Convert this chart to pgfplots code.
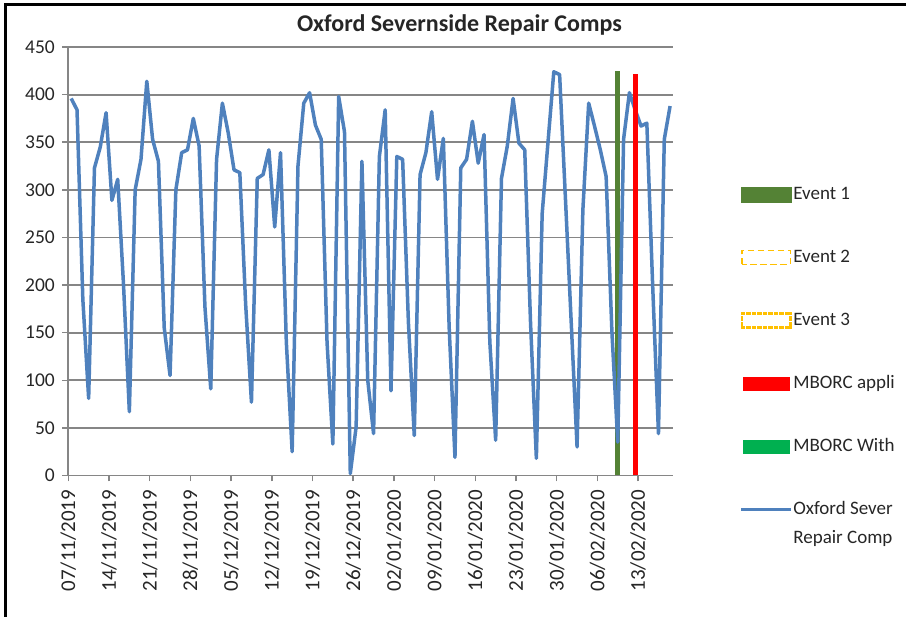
\documentclass[border=0pt]{standalone}
\usepackage{fontspec}
\setmainfont{Carlito}
\usepackage{pgfplots}
\usepackage{pgfplotstable}
\pgfplotsset{compat=1.18}
\definecolor{serblue}{RGB}{79,129,189}
\definecolor{evgreen}{RGB}{84,130,53}
\definecolor{mbgreen}{RGB}{0,176,80}
\definecolor{evorange}{RGB}{255,192,0}
\definecolor{gridgray}{RGB}{134,134,134}

\pgfplotstableread{
d v
0 396
1 384
2 185
3 81
4 323
5 345
6 381
7 289
8 311
9 200
10 67
11 300
12 332
13 414
14 353
15 330
16 155
17 105
18 300
19 339
20 342
21 375
22 346
23 177
24 91
25 332
26 391
27 360
28 321
29 318
30 180
31 77
32 312
33 316
34 342
35 261
36 339
37 140
38 25
39 325
40 391
41 402
42 368
43 353
44 140
45 33
46 398
47 361
48 2
49 51
50 330
51 100
52 44
53 335
54 384
55 89
56 335
57 332
58 160
59 42
60 316
61 339
62 382
63 311
64 354
65 156
66 19
67 323
68 332
69 372
70 328
71 358
72 140
73 37
74 312
75 346
76 396
77 349
78 342
79 160
80 18
81 275
82 350
83 424
84 421
85 291
86 160
87 30
88 279
89 391
90 367
91 342
92 314
93 150
94 35
95 353
96 402
97 384
98 367
99 370
100 200
101 44
102 353
103 388
}\compdata

\begin{document}
\begin{tikzpicture}
\path[use as bounding box] (0pt,0pt) rectangle (906pt,617pt);
\begin{axis}[
  at={(68.3pt,141.5pt)}, anchor=south west,
  width=604.7pt, height=428.5pt, scale only axis,
  xmin=-0.5, xmax=103.5, ymin=0, ymax=450,
  clip=false,
  axis lines=left,
  axis line style={-, draw=gridgray, line width=1.8pt},
  ymajorgrids,
  major grid style={draw=gridgray, line width=1.8pt},
  tick align=outside,
  major tick length=6pt,
  tick style={draw=gridgray, line width=1.5pt},
  ytick={0,50,100,150,200,250,300,350,400,450},
  xtick={-0.5,6.5,13.5,20.5,27.5,34.5,41.5,48.5,55.5,62.5,69.5,76.5,83.5,90.5,97.5},
  xticklabels={07/11/2019,14/11/2019,21/11/2019,28/11/2019,05/12/2019,12/12/2019,19/12/2019,26/12/2019,02/01/2020,09/01/2020,16/01/2020,23/01/2020,30/01/2020,06/02/2020,13/02/2020},
  /pgf/number format/assume math mode=true,
  yticklabel shift=4pt,
  xticklabel shift=5pt,
  yticklabel style={font=\fontsize{19.5}{20}\selectfont, text=black!85},
  xticklabel style={rotate=90, anchor=east, font=\fontsize{21}{22}\selectfont, text=black!85},
  title={Oxford Severnside Repair Comps},
  title style={at={(axis description cs:0.647,1.0373)}, anchor=center, font=\bfseries\fontsize{24}{26}\selectfont, text=black!85},
  legend cell align=left,
  legend style={at={(axis description cs:1.1097,0.6768)}, anchor=north west,
    draw=none, fill=none, inner sep=0pt, outer sep=0pt,
    row sep=45pt, column sep=0.5pt,
    font=\fontsize{19}{29}\selectfont, text=black!85,
    nodes={inner sep=0pt, text height=14pt, text depth=4pt}},
]
\addplot[ycomb, draw=evgreen, line width=5pt, forget plot] coordinates {(94,425)};
\addplot[serblue, line width=3.5pt, line join=round, forget plot] table[x=d,y=v]{\compdata};
\addplot[ycomb, draw=red, line width=5pt, forget plot] coordinates {(97,422)};

\addlegendimage{draw=evgreen, fill=evgreen, legend image code/.code={\fill[evgreen] (0pt,-7.5pt) rectangle (50pt,7.5pt);}}
\addlegendentry{Event 1}
\addlegendimage{draw=evorange, legend image code/.code={\draw[draw=evorange, line width=1.5pt, dash pattern=on 6.5pt off 3.5pt] (0.75pt,-7pt) rectangle (49.25pt,7pt);}}
\addlegendentry{Event 2}
\addlegendimage{draw=evorange, legend image code/.code={%
  \foreach \xx in {0,5.5,11,16.5,22,27.5,33,38.5,44} {\fill[evorange] (\xx pt,6.2pt) rectangle ++(3.6pt,1.6pt); \fill[evorange] (\xx pt,-7.8pt) rectangle ++(3.6pt,1.6pt);}
  \fill[evorange] (48.4pt,6.2pt) rectangle (50pt,7.8pt);
  \fill[evorange] (48.4pt,-7.8pt) rectangle (50pt,-6.2pt);
  \foreach \yy in {-4.6,0.6} {\fill[evorange] (0pt,\yy pt) rectangle ++(1.6pt,3.2pt); \fill[evorange] (48.4pt,\yy pt) rectangle ++(1.6pt,3.2pt);}
}}
\addlegendentry{Event 3}
\addlegendimage{draw=red, fill=red, legend image code/.code={\fill[red] (2pt,-6.5pt) rectangle (48pt,6.5pt);}}
\addlegendentry{MBORC appli}
\addlegendimage{draw=mbgreen, fill=mbgreen, legend image code/.code={\fill[mbgreen] (2pt,-6.5pt) rectangle (48pt,6.5pt);}}
\addlegendentry{MBORC With}
\addlegendimage{draw=serblue, legend image code/.code={\draw[serblue, line width=3.5pt] (0pt,0pt) -- (50pt,0pt);}}
\addlegendentry{\vtop{\hbox{Oxford Sever}\hbox{Repair Comp}}}
\end{axis}
\draw[line width=2.6pt] (5.3pt,0pt) -- (5.3pt,612.3pt) -- (906pt,612.3pt);
\end{tikzpicture}
\end{document}
